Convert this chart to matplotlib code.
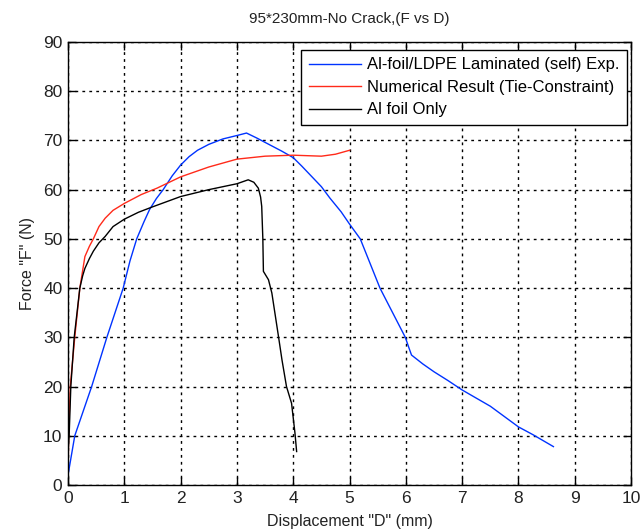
import matplotlib
matplotlib.use('Agg')
import matplotlib.pyplot as plt

plt.rcParams['font.family'] = ['Liberation Sans', 'DejaVu Sans']

# Al-foil/LDPE laminated experiment (blue)
blue_x = [0.0, 0.12, 0.42, 0.69, 0.98, 1.1, 1.22, 1.35, 1.45, 1.57, 1.69, 1.85, 2.0, 2.15,
          2.3, 2.5, 2.75, 3.0, 3.17, 3.35, 3.6, 3.8, 4.0, 4.15, 4.3, 4.5, 4.65, 4.85, 5.0,
          5.19, 5.54, 5.99, 6.05, 6.1, 6.3, 6.5, 6.75, 7.0, 7.5, 8.0, 8.26, 8.62]
blue_y = [2.0, 10.0, 20.0, 30.0, 40.0, 45.5, 50.0, 53.5, 56.0, 58.2, 60.0, 62.8, 65.0, 66.7,
          68.0, 69.2, 70.3, 71.0, 71.5, 70.5, 69.0, 67.8, 66.5, 64.8, 63.0, 60.6, 58.3, 55.5, 53.0,
          50.0, 40.0, 30.0, 28.0, 26.4, 24.6, 23.0, 21.2, 19.3, 16.0, 11.8, 10.2, 7.8]

# Numerical result (red)
red_x = [0.0, 0.01, 0.04, 0.12, 0.21, 0.30, 0.38, 0.45, 0.55, 0.66, 0.8, 1.0, 1.3, 1.58,
         2.0, 2.5, 3.0, 3.5, 4.0, 4.5, 4.75, 5.0]
red_y = [0.0, 10.0, 20.0, 30.0, 40.0, 46.4, 48.5, 50.0, 52.5, 54.2, 55.8, 57.2, 59.0, 60.3,
         62.6, 64.6, 66.2, 66.8, 67.0, 66.8, 67.2, 68.0]

# Al foil only (black)
black_x = [0.0, 0.02, 0.05, 0.11, 0.21, 0.26, 0.30, 0.38, 0.45, 0.55, 0.66, 0.8, 1.0, 1.25,
           1.5, 2.0, 2.5, 3.0, 3.2, 3.3, 3.38, 3.42, 3.44, 3.46, 3.47, 3.56, 3.62, 3.74, 3.80,
           3.88, 3.97, 4.03, 4.06]
black_y = [6.5, 10.0, 20.0, 30.0, 40.0, 42.5, 44.0, 46.0, 47.5, 49.2, 50.5, 52.5, 54.0, 55.4,
           56.5, 58.6, 60.0, 61.2, 62.0, 61.5, 60.3, 58.5, 56.6, 50.0, 43.4, 41.7, 39.0, 30.0, 25.4,
           20.0, 16.6, 10.6, 6.8]

fig = plt.figure(figsize=(6.44, 5.3), dpi=100)
ax = fig.add_axes([0.1056, 0.0849, 0.8744, 0.8359])

ax.plot(blue_x, blue_y, color='#0033ff', lw=1.0, label='Al-foil/LDPE Laminated (self) Exp.')
ax.plot(red_x, red_y, color='#ff2a1a', lw=1.0, label='Numerical Result (Tie-Constraint)')
ax.plot(black_x, black_y, color='black', lw=1.0, label='Al foil Only')

ax.set_xlim(0, 10)
ax.set_ylim(0, 90)
ax.set_xticks(range(0, 11))
ax.set_yticks(range(0, 91, 10))
ax.grid(True, color='black', linestyle=(0, (2, 3)), lw=1.0)
ax.tick_params(direction='in', top=True, right=True, length=6, width=1,
               labelsize=12.5, labelcolor='#222222', pad=4)
for s in ax.spines.values():
    s.set_linewidth(1.0)

ax.set_title('95*230mm-No Crack,(F vs D)', fontsize=11, color='#222222', pad=14)
ax.set_xlabel('Displacement "D" (mm)', fontsize=11.5, color='#222222', labelpad=6)
ax.set_ylabel('Force "F" (N)', fontsize=11.5, color='#222222', labelpad=6)

leg = ax.legend(loc='upper right', bbox_to_anchor=(0.993, 0.982), borderaxespad=0,
                fontsize=12, handlelength=3.1, handletextpad=0.4, fancybox=False,
                framealpha=1, edgecolor='black', labelspacing=0.45, borderpad=0.45)
leg.get_frame().set_linewidth(1.0)

fig.savefig('out.png', dpi=100)
